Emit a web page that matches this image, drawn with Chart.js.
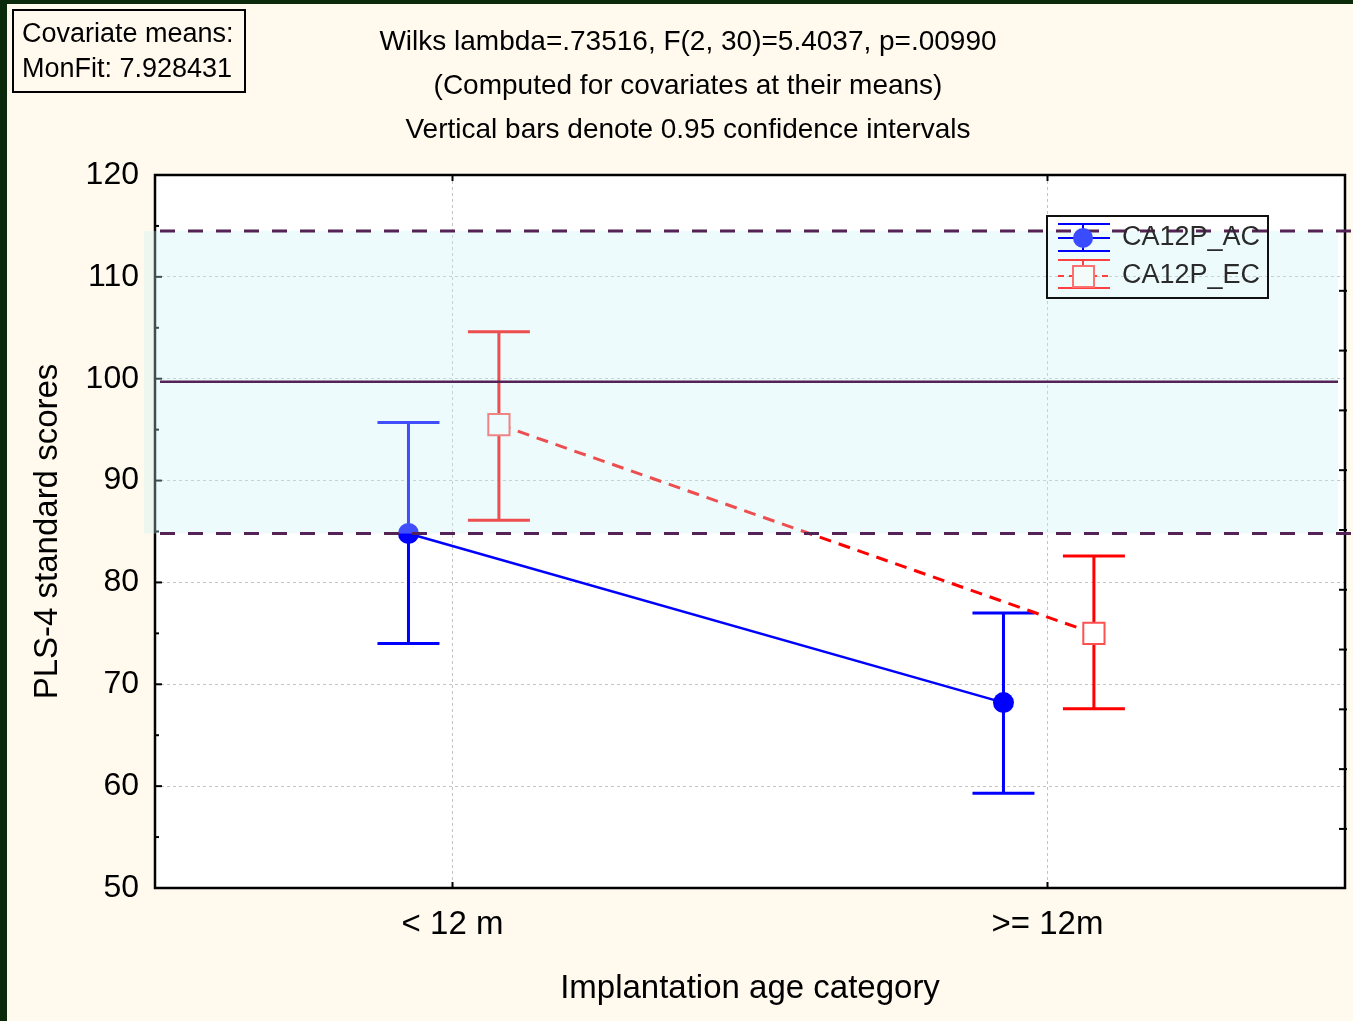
<!DOCTYPE html>
<html>
<head>
<meta charset="utf-8">
<script src="https://cdn.jsdelivr.net/npm/chart.js@4.4.1/dist/chart.umd.min.js"></script>
<style>
  html, body { margin: 0; padding: 0; background: #0a2a0a; overflow: hidden; }
  canvas { display: block; }
</style>
</head>
<body>
<canvas id="chart1" width="1353" height="1021"></canvas>
<script>
// data
const categories = ['< 12 m', '>= 12m'];
const acMean = [84.8, 68.2];
const acLow  = [74.0, 59.3];
const acHigh = [95.7, 77.0];
const ecMean = [95.5, 75.0];
const ecLow  = [86.1, 67.6];
const ecHigh = [104.6, 82.6];
const yTicks = [50, 60, 70, 80, 90, 100, 110, 120];
// normative band (dashed) and its mean (solid)
const bandLow = 84.8, bandHigh = 114.5, bandMid = 99.7;

const titleLines = [
  'Wilks lambda=.73516, F(2, 30)=5.4037, p=.00990',
  '(Computed for covariates at their means)',
  'Vertical bars denote 0.95 confidence intervals'
];
const covLines = ['Covariate means:', 'MonFit: 7.928431'];

const FONT = '"Liberation Sans", Arial, sans-serif';
const AC_SHIFT = -0.074, EC_SHIFT = 0.078;
const BLUE = '#0000ff', RED = '#ff0000', PURPLE = '#552255';

const bgPlugin = {
  id: 'bg',
  beforeDraw(chart) {
    const c = chart.ctx, a = chart.chartArea;
    c.save();
    c.fillStyle = '#0a2a0a';
    c.fillRect(0, 0, chart.width, chart.height);
    c.fillStyle = '#fff9ee';
    c.fillRect(7, 4, chart.width - 7, chart.height - 4);
    c.fillStyle = '#ffffff';
    c.fillRect(a.left, a.top, a.right - a.left, a.bottom - a.top);
    // header texts
    c.fillStyle = '#000';
    c.textAlign = 'center';
    c.textBaseline = 'middle';
    c.font = '28px ' + FONT;
    titleLines.forEach((t, i) => c.fillText(t, 688, 42 + i * 44));
    // covariate box
    c.strokeStyle = '#000';
    c.lineWidth = 2;
    c.strokeRect(13, 10, 232, 82);
    c.textAlign = 'left';
    c.font = '27px ' + FONT;
    covLines.forEach((t, i) => c.fillText(t, 22, 35 + i * 35));
    c.restore();
  }
};

const errPlugin = {
  id: 'errbars',
  beforeDatasetsDraw(chart) {
    const c = chart.ctx, ys = chart.scales.y;
    const sets = [[acLow, acHigh, BLUE], [ecLow, ecHigh, RED]];
    c.save();
    c.lineWidth = 3;
    sets.forEach((s, di) => {
      chart.getDatasetMeta(di).data.forEach((pt, i) => {
        const y1 = ys.getPixelForValue(s[0][i]), y2 = ys.getPixelForValue(s[1][i]);
        c.strokeStyle = s[2];
        c.beginPath();
        c.moveTo(pt.x, y1); c.lineTo(pt.x, y2);
        c.moveTo(pt.x - 31, y1); c.lineTo(pt.x + 31, y1);
        c.moveTo(pt.x - 31, y2); c.lineTo(pt.x + 31, y2);
        c.stroke();
      });
    });
    c.restore();
  }
};

const overPlugin = {
  id: 'over',
  afterDraw(chart) {
    const c = chart.ctx, a = chart.chartArea, ys = chart.scales.y, xs = chart.scales.x;
    c.save();
    // frame
    c.strokeStyle = '#000';
    c.lineWidth = 2.5;
    c.strokeRect(a.left, a.top, a.right - a.left, a.bottom - a.top);
    // y ticks, left side (majors and minors inward)
    c.lineWidth = 2;
    for (let v = 50; v <= 120; v += 5) {
      const y = ys.getPixelForValue(v);
      const len = v % 10 === 0 ? 7 : 4;
      c.beginPath(); c.moveTo(a.left, y); c.lineTo(a.left + len, y); c.stroke();
    }
    // right side ticks
    for (let k = 0; k <= 10; k++) {
      const y = ys.getPixelForValue(bandHigh - k * 5.87);
      c.beginPath(); c.moveTo(a.right - 6, y); c.lineTo(a.right + 2, y); c.stroke();
    }
    // x ticks top and bottom
    categories.forEach((cat, i) => {
      const x = xs.getPixelForValue(i);
      c.beginPath();
      c.moveTo(x, a.bottom); c.lineTo(x, a.bottom - 6);
      c.moveTo(x, a.top); c.lineTo(x, a.top + 6);
      c.stroke();
    });

    // normative band over the data
    const yH = ys.getPixelForValue(bandHigh), yL = ys.getPixelForValue(bandLow), yM = ys.getPixelForValue(bandMid);
    const bandR = a.right - 7;
    c.fillStyle = 'rgba(200, 244, 247, 0.32)';
    c.fillRect(144, yH, bandR - 144, yL - yH);
    c.strokeStyle = PURPLE;
    c.lineWidth = 3;
    c.setLineDash([15, 13]);
    c.beginPath();
    c.moveTo(160, yH); c.lineTo(chart.width, yH);
    c.moveTo(160, yL); c.lineTo(chart.width, yL);
    c.stroke();
    c.setLineDash([]);
    c.lineWidth = 2.5;
    c.beginPath(); c.moveTo(160, yM); c.lineTo(bandR, yM); c.stroke();

    // legend
    const lx = 1047, ly = 216;
    c.lineWidth = 2;
    c.strokeStyle = '#111';
    c.strokeRect(lx, ly, 221, 82);
    // AC entry
    c.strokeStyle = BLUE;
    c.beginPath();
    c.moveTo(1058, 224); c.lineTo(1110, 224);
    c.moveTo(1058, 238); c.lineTo(1110, 238);
    c.moveTo(1058, 251); c.lineTo(1110, 251);
    c.moveTo(1083, 224); c.lineTo(1083, 251);
    c.stroke();
    c.fillStyle = '#3a4cff';
    c.beginPath(); c.arc(1083, 238, 10, 0, Math.PI * 2); c.fill();
    // EC entry
    c.strokeStyle = '#ff4040';
    c.beginPath();
    c.moveTo(1058, 260); c.lineTo(1110, 260);
    c.moveTo(1058, 288); c.lineTo(1110, 288);
    c.moveTo(1083, 260); c.lineTo(1083, 288);
    c.stroke();
    c.setLineDash([6, 5]);
    c.beginPath(); c.moveTo(1058, 276); c.lineTo(1110, 276); c.stroke();
    c.setLineDash([]);
    c.fillStyle = '#f4fcfa';
    c.fillRect(1073, 266, 21, 21);
    c.strokeStyle = '#ff7070';
    c.strokeRect(1073, 266, 21, 21);
    c.fillStyle = '#2a2a2a';
    c.font = '27px ' + FONT;
    c.textAlign = 'left';
    c.textBaseline = 'middle';
    c.fillText(chart.data.datasets[0].label, 1122, 238);
    c.fillText(chart.data.datasets[1].label, 1122, 276);
    c.restore();
  }
};

const ctx1 = document.getElementById('chart1').getContext('2d');
new Chart(ctx1, {
  type: 'line',
  data: {
    datasets: [{
      label: 'CA12P_AC',
      data: categories.map((c, i) => ({ x: i + AC_SHIFT, y: acMean[i] })),
      borderColor: BLUE,
      borderWidth: 2.5,
      pointStyle: 'circle',
      pointRadius: 10.5,
      pointBackgroundColor: BLUE,
      pointBorderColor: BLUE,
      pointBorderWidth: 0
    }, {
      label: 'CA12P_EC',
      data: categories.map((c, i) => ({ x: i + EC_SHIFT, y: ecMean[i] })),
      borderColor: RED,
      borderWidth: 3,
      borderDash: [12, 8],
      pointStyle: 'rect',
      pointRadius: 15,
      pointBackgroundColor: '#ffffff',
      pointBorderColor: '#ff5050',
      pointBorderWidth: 2
    }]
  },
  options: {
    responsive: false,
    animation: false,
    devicePixelRatio: 1,
    layout: { autoPadding: false, padding: { left: 0, top: 175, right: 8, bottom: 0 } },
    plugins: {
      legend: { display: false },
      title: { display: false },
      tooltip: { enabled: false }
    },
    scales: {
      x: {
        type: 'linear',
        min: -0.5,
        max: 1.5,
        afterBuildTicks: s => { s.ticks = categories.map((c, i) => ({ value: i })); },
        afterFit: s => { s.height = 133; s.paddingLeft = 0; s.paddingRight = 0; },
        ticks: {
          callback: v => categories[v],
          color: '#000',
          font: { family: FONT, size: 33 },
          padding: 17,
          maxRotation: 0
        },
        grid: { color: '#c4c4c4', lineWidth: 1, drawTicks: false },
        border: { display: false, dash: [3, 3] },
        title: {
          display: true,
          text: 'Implantation age category',
          color: '#000',
          font: { family: FONT, size: 33 },
          padding: { top: 0, bottom: 12 }
        }
      },
      y: {
        min: 50,
        max: 120,
        afterBuildTicks: s => { s.ticks = yTicks.map(v => ({ value: v })); },
        afterFit: s => { s.width = 155; s.paddingTop = 0; s.paddingBottom = 0; },
        ticks: {
          color: '#000',
          font: { family: FONT, size: 32 },
          padding: 16
        },
        grid: { color: '#c4c4c4', lineWidth: 1, drawTicks: false },
        border: { display: false, dash: [3, 3] },
        title: {
          display: true,
          text: 'PLS-4 standard scores',
          color: '#000',
          font: { family: FONT, size: 33 },
          padding: { top: 28, bottom: 0 }
        }
      }
    }
  },
  plugins: [bgPlugin, errPlugin, overPlugin]
});
</script>
</body>
</html>
